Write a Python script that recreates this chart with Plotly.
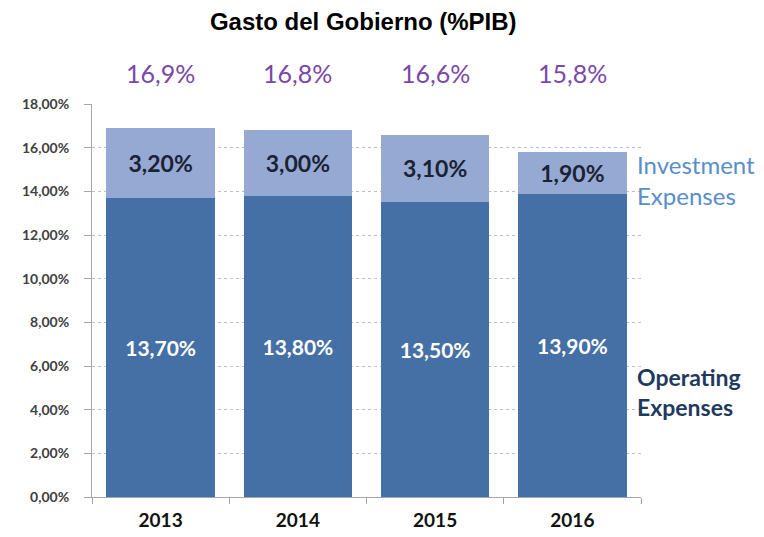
import plotly.graph_objects as go

years = ["2013", "2014", "2015", "2016"]
operating = [13.7, 13.8, 13.5, 13.9]
investment = [3.2, 3.0, 3.1, 1.9]
y_ticks = [0, 2, 4, 6, 8, 10, 12, 14, 16, 18]
title_text = "Gasto del Gobierno (%PIB)"
series_names = ["Operating<br>Expenses", "Investment<br>Expenses"]

totals = [round(o + i, 1) for o, i in zip(operating, investment)]
y_max = y_ticks[-1]

DARK = "#4570A6"
LIGHT = "#95A9D3"
FONT = "Lato, Open Sans, sans-serif"

fig = go.Figure()
fig.add_trace(go.Bar(
    x=years, y=operating, marker=dict(color=DARK, line=dict(width=0)),
    texttemplate="<b>%{y:.2f}%</b>", textposition="inside", insidetextanchor="middle",
    textangle=0,
    textfont=dict(family=FONT, size=21, color="white"),
    showlegend=False, hoverinfo="skip",
))
fig.add_trace(go.Bar(
    x=years, y=investment, marker=dict(color=LIGHT, line=dict(width=0)),
    texttemplate="<b>%{y:.2f}%</b>", textposition="inside", insidetextanchor="middle",
    textangle=0,
    textfont=dict(family=FONT, size=23, color="#1b2233"),
    showlegend=False, hoverinfo="skip",
))

annotations = []
for i, t in enumerate(totals):
    annotations.append(dict(
        x=i, y=19.4 / y_max, xref="x", yref="paper", yanchor="middle", showarrow=False,
        text=f"{t:.1f}".replace(".", ",") + "%",
        font=dict(family=FONT, size=25, color="#7A48A8"),
    ))
annotations.append(dict(
    x=1.0, xref="paper", xanchor="left", xshift=-6,
    y=14.5, yref="y", yanchor="middle",
    showarrow=False, align="left", text=series_names[1],
    font=dict(family=FONT, size=24, color="#5A8DCC"),
))
annotations.append(dict(
    x=1.0, xref="paper", xanchor="left", xshift=-6,
    y=4.8, yref="y", yanchor="middle",
    showarrow=False, align="left", text="<b>" + series_names[0] + "</b>",
    font=dict(family=FONT, size=23, color="#1F3A5F"),
))

fig.update_layout(
    barmode="stack",
    bargap=0.21,
    width=764, height=537,
    margin=dict(l=84, r=131, t=96, b=48),
    paper_bgcolor="white", plot_bgcolor="white",
    separators=",.",
    title=dict(text="<b>" + title_text + "</b>", x=0.465, xref="container", xanchor="center",
               y=1 - 14 / 537, yref="container", yanchor="middle",
               font=dict(family="Liberation Sans, Arial, sans-serif", size=24, color="black")),
    annotations=annotations,
    xaxis=dict(
        type="category", range=[-0.5, len(years) - 0.5],
        showline=True, linecolor="#a6a6a6", linewidth=1,
        ticks="outside", tickson="boundaries", ticklen=6, tickcolor="#a6a6a6",
        tickvals=years, ticktext=["<b>" + y + "</b>" for y in years],
        tickfont=dict(family=FONT, size=19, color="#111111"),
        ticklabelstandoff=6,
        showgrid=False,
    ),
    yaxis=dict(
        range=[0, y_max], tickvals=y_ticks,
        ticktext=["<b>" + f"{v:.2f}".replace(".", ",") + "%</b>" for v in y_ticks],
        showline=True, linecolor="#a6a6a6", linewidth=1,
        ticks="outside", ticklen=7, tickcolor="#a6a6a6",
        tickfont=dict(family=FONT, size=14, color="#404040"),
        ticklabelstandoff=12,
        showgrid=True, gridcolor="#bfbfbf", griddash="dot", gridwidth=1,
        zeroline=False,
    ),
)

fig.write_html("out.html")
